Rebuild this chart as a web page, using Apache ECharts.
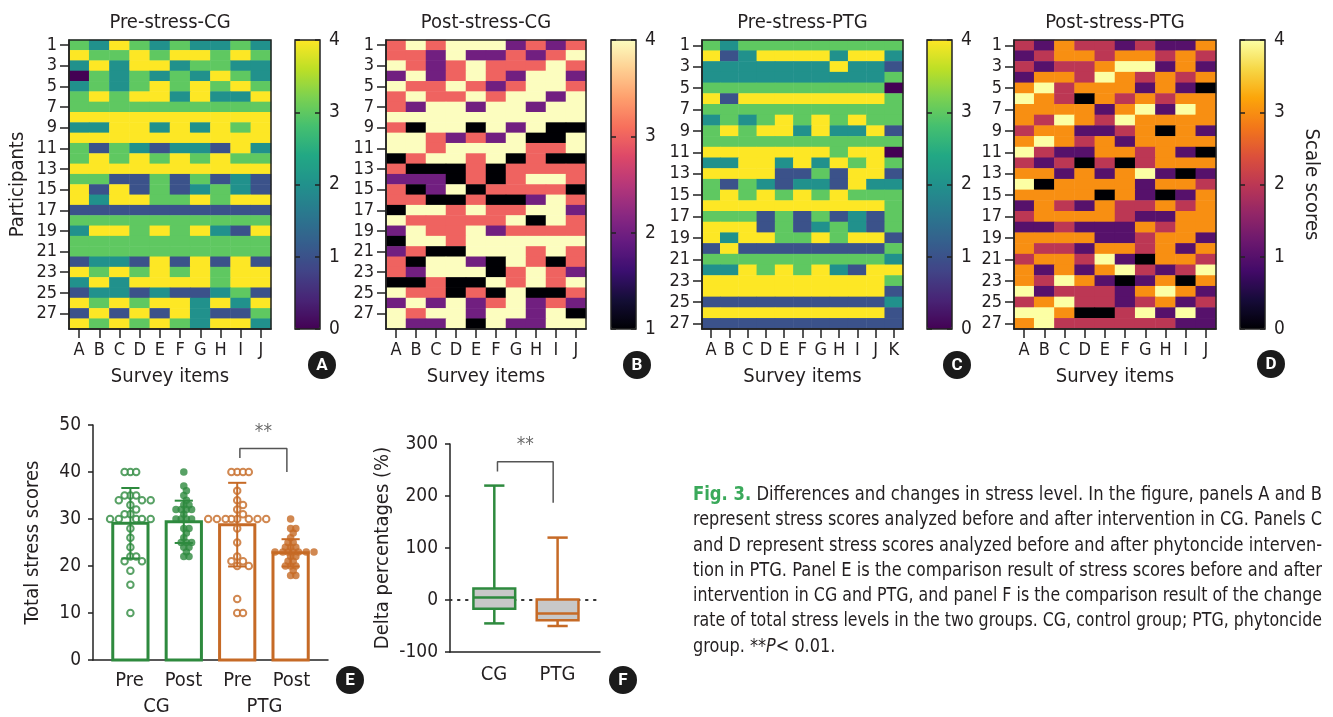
<!DOCTYPE html>
<html><head><meta charset="utf-8">
<script src="https://cdn.jsdelivr.net/npm/echarts@6.0.0/dist/echarts.min.js"></script>
<style>html,body{margin:0;padding:0;background:#fff}#c{width:1333px;height:717px}</style>
</head><body><div id="c"></div><script>
// ---------------- DATA ----------------
const itemsAJ = ['A','B','C','D','E','F','G','H','I','J'];
const itemsAK = ['A','B','C','D','E','F','G','H','I','J','K'];
const participants28 = ['1','2','3','4','5','6','7','8','9','10','11','12','13','14','15','16','17','18','19','20','21','22','23','24','25','26','27','28'];
const participants27 = ['1','2','3','4','5','6','7','8','9','10','11','12','13','14','15','16','17','18','19','20','21','22','23','24','25','26','27'];

const preCG = [
 [3,2,4,3,2,3,2,2,3,2],[4,3,3,4,3,4,4,3,4,3],[2,4,2,4,4,2,3,3,2,2],[0,3,2,3,2,3,2,4,3,2],
 [2,3,2,3,4,3,4,3,4,3],[3,4,3,4,4,2,4,2,2,4],[3,3,3,3,3,3,3,3,3,3],[4,4,4,4,4,4,4,4,4,4],
 [2,2,4,4,2,4,2,4,3,4],[4,4,4,4,4,4,4,4,4,4],[3,1,3,2,1,2,2,1,4,2],[3,4,3,4,3,4,3,4,3,3],
 [4,4,4,4,4,4,4,4,4,4],[3,3,1,1,3,1,3,1,2,1],[4,1,4,1,3,1,2,3,2,1],[4,2,4,4,3,3,4,3,4,4],
 [1,1,1,1,1,1,1,1,1,1],[3,3,3,3,3,3,3,3,3,3],[2,4,4,3,4,3,4,2,1,4],[3,3,3,3,3,3,3,3,3,3],
 [3,3,3,3,3,3,3,3,3,3],[1,2,2,1,4,1,4,1,4,1],[4,3,4,3,4,3,4,3,4,4],[2,4,2,4,4,4,4,3,4,4],
 [1,2,2,1,2,1,1,2,3,1],[4,3,4,3,4,4,2,4,2,4],[1,4,1,4,1,4,2,1,1,3],[4,3,4,3,4,3,2,4,4,2]
];
const postCG = [
 [3,4,3,4,4,4,2,3,2,3],[3,3,2,4,2,2,3,2,3,4],[4,3,2,3,4,3,3,3,4,3],[2,4,2,3,4,3,2,4,4,2],
 [4,3,3,4,3,2,3,4,4,3],[3,4,3,3,4,3,4,4,2,4],[3,2,4,4,2,4,4,2,4,4],[4,4,4,4,4,4,4,4,4,4],
 [3,1,4,4,1,4,2,4,1,1],[4,4,3,2,3,2,4,1,1,4],[4,4,3,4,4,4,4,3,3,4],[1,3,4,4,3,4,1,3,1,1],
 [3,1,1,1,3,1,3,3,3,3],[2,2,2,1,3,1,3,4,4,3],[3,1,2,4,1,3,3,3,3,1],[3,3,1,1,3,1,1,2,4,3],
 [1,4,4,3,4,3,3,4,4,2],[4,3,3,3,3,3,4,1,4,3],[2,4,3,3,4,2,3,3,3,3],[1,4,4,3,4,4,4,4,4,4],
 [2,3,1,1,4,4,4,3,4,3],[3,1,4,4,2,1,4,3,1,3],[3,2,4,4,4,1,3,4,3,2],[1,1,3,1,1,4,3,4,3,4],
 [4,3,3,1,3,1,4,1,1,3],[2,4,2,4,2,3,4,2,3,2],[4,3,4,4,2,4,4,2,4,1],[4,2,2,4,1,4,2,2,4,4]
];
const prePTG = [
 [3,2,3,3,3,3,3,3,3,3,3],[4,1,2,4,4,4,4,2,4,4,2],[2,2,2,2,2,2,2,4,2,2,1],[2,2,2,2,2,2,2,2,2,2,3],
 [3,3,3,3,3,3,3,3,3,3,0],[4,1,4,4,4,4,4,4,4,4,3],[3,3,3,3,3,3,3,3,3,3,3],[2,3,2,3,4,3,4,3,4,3,3],
 [3,4,3,4,4,2,4,2,2,4,1],[3,3,3,3,3,3,3,3,3,3,3],[4,4,4,4,4,4,4,3,4,4,0],[2,2,4,4,2,4,2,4,3,4,3],
 [4,4,4,4,1,1,3,1,4,4,1],[3,1,3,2,1,2,2,1,4,2,2],[3,4,3,4,3,4,3,4,3,3,3],[4,4,4,4,4,4,4,4,4,4,3],
 [3,3,3,1,3,1,3,1,2,1,3],[4,4,4,1,3,1,2,3,2,1,3],[4,2,4,4,3,3,4,3,4,4,1],[1,4,1,1,1,1,1,1,1,1,3],
 [3,3,3,3,3,3,3,3,3,3,2],[2,2,4,3,4,3,4,2,1,4,4],[4,4,4,4,4,4,4,4,4,4,3],[4,4,4,4,4,4,4,4,4,4,1],
 [1,1,1,1,1,1,1,1,1,1,2],[4,4,4,4,4,4,4,4,4,4,1],[1,1,1,1,1,1,1,1,1,1,1]
];
const postPTG = [
 [2,1,3,2,2,1,2,1,1,3],[1,2,3,3,2,3,3,2,3,2],[2,1,2,2,3,4,4,1,3,1],[1,3,3,2,4,3,2,3,2,3],
 [3,4,2,3,3,3,1,3,1,0],[4,3,2,0,3,2,3,2,3,3],[3,3,3,3,1,3,4,1,4,3],[3,2,4,3,2,4,3,3,3,3],
 [2,3,3,1,1,2,3,0,3,1],[3,4,3,2,3,1,3,3,3,3],[4,2,1,1,3,3,2,3,1,0],[2,1,2,0,2,0,2,3,3,3],
 [3,3,1,3,1,3,4,1,0,1],[4,0,3,3,3,3,1,3,3,2],[3,3,3,3,0,3,1,0,1,3],[1,3,2,1,3,2,2,3,2,3],
 [2,3,3,3,3,2,1,1,3,3],[1,1,2,1,1,1,3,2,3,3],[3,3,3,3,1,1,2,3,3,1],[3,2,2,1,3,3,2,3,1,3],
 [2,3,3,2,4,1,0,3,3,2],[3,1,3,1,3,4,2,1,2,4],[3,2,4,3,1,0,1,3,0,3],[4,1,2,2,2,1,3,4,3,1],
 [2,3,4,2,2,1,2,3,1,2],[4,4,3,0,0,2,4,1,4,1],[3,4,2,2,2,2,2,2,1,1]
];

// Panel E: total stress scores
const groupsE = ['Pre','Post','Pre','Post'];
const groupNamesE = ['CG','PTG'];
const meansE = [29.1, 29.4, 28.8, 22.8];
const sdE = [7.5, 4.5, 8.9, 2.9];
const cgPre = [40,40,40,35,35,35,34,34,34,33,32,31,31,30,30,30,30,30,28,26,24,22,22,21,21,19,16,10];
const cgPost = [40,37,36,35,34,33,33,32,32,32,32,31,30,30,30,30,28,28,27,26,25,25,25,24,24,23,22,22];
const ptgPre = [40,40,40,40,36,34,33,32,31,30,30,30,30,30,30,30,30,28,25,22,21,21,20,20,13,10,10];
const ptgPost = [30,28,28,27,26,25,25,24,24,24,23,23,23,23,23,23,23,22,22,21,21,20,20,20,19,18,18];
const sigGroupsE = [2, 3];
const sigHeightsE = [43, 45, 40];

// Panel F: delta percentages  [min, Q1, median, Q3, max]
const groupsF = ['CG','PTG'];
const boxCG = [-45, -17, 5, 22, 220];
const boxPTG = [-50, -39, -26, 1, 120];
const sigGroupsF = [0, 1];
const sigHeightsF = [247, 266, 187];

const yTicksE = [0, 50, 10];
const yTicksF = [-100, 300, 100];

// ---------------- STYLE ----------------
const FONT = "'Liberation Sans Narrow','Arial Narrow','DejaVu Sans Condensed','Roboto Condensed',Roboto,sans-serif";
const TXT = '#231f20';
const GREEN = '#2e8a3e', ORANGE = '#c66a26';
const viridis = ['#440154','#482475','#414487','#355f8d','#2a788e','#21918c','#22a884','#44bf70','#7ad151','#bddf26','#fde725'];
const magma = ['#000004','#140e36','#3b0f70','#641a80','#8c2981','#b73779','#de4968','#f7705c','#fe9f6d','#fecf92','#fcfdbf'];
const inferno = ['#000004','#160b39','#420a68','#6a176e','#932667','#bc3754','#dd513a','#f37819','#fca50a','#f6d746','#fcffa4'];

const grid = [], xAxis = [], yAxis = [], series = [], visualMap = [], graphic = [];
const addGrid = g => grid.push(g) - 1;
const lbl = (size, extra) => Object.assign({fontSize:size, color:TXT, fontFamily:FONT}, extra || {});
const LINE = {color:'#222', width:1.5};

// ---------------- HEATMAPS ----------------
const panels = [
  {title:'Pre-stress-CG', data:preCG, items:itemsAJ, rows:participants28, cmap:viridis, min:0, max:4, left:69, width:202, cb:295},
  {title:'Post-stress-CG', data:postCG, items:itemsAJ, rows:participants28, cmap:magma, min:1, max:4, left:386, width:200, cb:611},
  {title:'Pre-stress-PTG', data:prePTG, items:itemsAK, rows:participants27, cmap:viridis, min:0, max:4, left:702, width:201, cb:927},
  {title:'Post-stress-PTG', data:postPTG, items:itemsAJ, rows:participants27, cmap:inferno, min:0, max:4, left:1014, width:202, cb:1240}
];
panels.forEach((p, k) => {
  const gi = addGrid({left:p.left, top:40, width:p.width, height:289, show:true, borderColor:'#222', borderWidth:1.5, backgroundColor:'transparent', z:10});
  const xi = xAxis.push({gridIndex:gi, type:'category', data:p.items, z:10,
    axisLine:{show:true, lineStyle:LINE}, axisTick:{show:true, alignWithLabel:true, length:9, lineStyle:LINE},
    axisLabel:lbl(18, {margin:12}), splitLine:{show:false},
    name:'Survey items', nameLocation:'middle', nameGap:38, nameTextStyle:lbl(20)}) - 1;
  const yi = yAxis.push({gridIndex:gi, type:'category', data:p.rows, inverse:true, z:10,
    axisLine:{show:true, lineStyle:LINE}, axisTick:{show:true, alignWithLabel:true, interval:1, length:9, lineStyle:LINE},
    axisLabel:lbl(18, {margin:12, interval:1}), splitLine:{show:false},
    name: k === 0 ? 'Participants' : '', nameLocation:'middle', nameGap:41, nameTextStyle:lbl(20)}) - 1;
  const data = [];
  p.data.forEach((row, r) => row.forEach((v, c) => data.push([c, r, v])));
  const si = series.push({type:'heatmap', xAxisIndex:xi, yAxisIndex:yi, data, emphasis:{disabled:true}, itemStyle:{borderWidth:0}}) - 1;
  visualMap.push({type:'continuous', seriesIndex:si, min:p.min, max:p.max, left:p.cb, top:40,
    itemWidth:25, itemHeight:289, padding:0, calculable:false, hoverLink:false, showLabel:false,
    text:null, inRange:{color:p.cmap}, textStyle:{color:'transparent'}});
  const cg = addGrid({left:p.cb, top:40, width:25, height:289, show:true, borderColor:'#222', borderWidth:1.5, backgroundColor:'transparent', z:10});
  xAxis.push({gridIndex:cg, type:'value', show:false, min:0, max:1});
  yAxis.push({gridIndex:cg, type:'value', min:p.min, max:p.max, interval:1, position:'right', z:10,
    axisLine:{show:false, onZero:false}, axisTick:{show:true, inside:true, length:5, lineStyle:LINE},
    axisLabel:lbl(19, {margin:9}), splitLine:{show:false},
    name: k === 3 ? 'Scale scores' : '', nameLocation:'middle', nameRotate:-90, nameGap:36, nameTextStyle:lbl(20)});
  yAxis.push({gridIndex:cg, type:'value', min:p.min, max:p.max, interval:1, position:'left', z:10,
    axisLine:{show:false, onZero:false}, axisTick:{show:true, inside:true, length:5, lineStyle:LINE},
    axisLabel:{show:false}, splitLine:{show:false}});
  graphic.push({type:'text', x:p.left + p.width / 2, y:23, z:20,
    style:{text:p.title, fontSize:20, fontFamily:FONT, fill:TXT, align:'center', verticalAlign:'middle'}});
});

// ---------------- PANEL E ----------------
const gE = addGrid({left:93, top:425, width:235, height:235});
const xE = xAxis.push({gridIndex:gE, type:'value', min:-0.7, max:3.7, axisLine:{show:true, onZero:false, lineStyle:LINE},
  axisTick:{show:false}, axisLabel:{show:false}, splitLine:{show:false}}) - 1;
const yE = yAxis.push({gridIndex:gE, type:'value', min:yTicksE[0], max:yTicksE[1], interval:yTicksE[2],
  axisLine:{show:true, onZero:false, lineStyle:LINE}, axisTick:{show:true, length:5, lineStyle:LINE},
  axisLabel:lbl(19, {margin:12}), splitLine:{show:false},
  name:'Total stress scores', nameLocation:'middle', nameGap:50, nameTextStyle:lbl(20)}) - 1;
const gEl = addGrid({left:102.5, top:425, width:216, height:235});
xAxis.push({gridIndex:gEl, type:'category', data:groupsE, axisLine:{show:false}, axisTick:{show:false}, axisLabel:lbl(20, {margin:12})});
xAxis.push({gridIndex:gEl, type:'category', data:groupNamesE, position:'bottom', axisLine:{show:false}, axisTick:{show:false}, axisLabel:lbl(20, {margin:38})});
yAxis.push({gridIndex:gEl, type:'value', show:false, min:0, max:50});

const colorsE = [GREEN, GREEN, ORANGE, ORANGE];
series.push({type:'custom', xAxisIndex:xE, yAxisIndex:yE, z:2, clip:false,
  data: meansE.map((m, i) => [i, m]),
  renderItem: (params, api) => {
    const x = api.value(0), m = api.value(1);
    const a = api.coord([x - 0.33, m]), b = api.coord([x + 0.33, 0]);
    return {type:'rect', shape:{x:a[0], y:a[1], width:b[0] - a[0], height:b[1] - a[1]},
      style:{fill:'#fff', stroke:colorsE[params.dataIndex], lineWidth:3}};
  }});

// beeswarm x offsets computed from values
function swarm(vals, center, minD) {
  const pxX = 235 / 4.4, pxY = 235 / 50, step = minD / 2;
  const order = vals.map((v, i) => i).sort((a, b) => vals[b] - vals[a]);
  const placed = [], out = [];
  order.forEach(i => {
    const y = vals[i] * pxY;
    let dx = null;
    for (let k = 0; dx === null && k < 60; k++) {
      const cands = k === 0 ? [0] : [k * step, -k * step];
      for (const c of cands) {
        if (placed.every(p => Math.hypot(p.dx - c, p.y - y) >= minD)) { dx = c; break; }
      }
    }
    placed.push({dx, y});
    out.push([center + dx / pxX, vals[i]]);
  });
  return out;
}
[[cgPre, 0, GREEN, true], [cgPost, 1, GREEN, false], [ptgPre, 2, ORANGE, true], [ptgPost, 3, ORANGE, false]].forEach(([vals, c, col, open]) => {
  series.push({type:'scatter', xAxisIndex:xE, yAxisIndex:yE, z:4, symbol:'circle', symbolSize:open ? 6.5 : 7.5,
    data: swarm(vals, c, open ? 5.8 : 5.2),
    itemStyle: open ? {color:'#fff', borderColor:col, borderWidth:2} : {color:col, borderWidth:0}});
});
series.push({type:'custom', xAxisIndex:xE, yAxisIndex:yE, z:5, clip:false,
  data: meansE.map((m, i) => [i, m - sdE[i], m + sdE[i]]),
  renderItem: (params, api) => {
    const x = api.value(0), lo = api.value(1), hi = api.value(2), col = colorsE[params.dataIndex];
    const L = (p, q) => ({type:'line', shape:{x1:p[0], y1:p[1], x2:q[0], y2:q[1]}, style:{stroke:col, lineWidth:2}});
    return {type:'group', children:[
      L(api.coord([x, lo]), api.coord([x, hi])),
      L(api.coord([x - 0.17, hi]), api.coord([x + 0.17, hi])),
      L(api.coord([x - 0.17, lo]), api.coord([x + 0.17, lo]))]};
  }});
function bracket(xi, yi, groups, h) {
  const x0 = groups[0] + 0.05, x1 = groups[1] - 0.07;
  series.push({type:'line', xAxisIndex:xi, yAxisIndex:yi, z:6, symbol:'none', clip:false, silent:true,
    data:[[x0, h[0]], [x0, h[1]], [x1, h[1]], [x1, h[2]]], lineStyle:{color:'#555', width:1.5}});
  series.push({type:'scatter', xAxisIndex:xi, yAxisIndex:yi, z:6, symbolSize:0, clip:false, silent:true,
    data:[[(x0 + x1) / 2, h[1]]],
    label:{show:true, position:'top', distance:7, formatter:'**', fontSize:19, color:'#444', fontFamily:FONT}});
}
bracket(xE, yE, sigGroupsE, sigHeightsE);

// ---------------- PANEL F ----------------
const gF = addGrid({left:450, top:444, width:150, height:208});
const xF = xAxis.push({gridIndex:gF, type:'value', min:-0.7, max:1.67, axisLine:{show:true, onZero:false, lineStyle:LINE},
  axisTick:{show:false}, axisLabel:{show:false}, splitLine:{show:false}}) - 1;
const yF = yAxis.push({gridIndex:gF, type:'value', min:yTicksF[0], max:yTicksF[1], interval:yTicksF[2],
  axisLine:{show:true, onZero:false, lineStyle:LINE}, axisTick:{show:true, length:5, lineStyle:LINE},
  axisLabel:lbl(19, {margin:12}), splitLine:{show:false},
  name:'Delta percentages (%)', nameLocation:'middle', nameGap:57, nameTextStyle:lbl(20)}) - 1;
const gFl = addGrid({left:462.25, top:444, width:127, height:208});
xAxis.push({gridIndex:gFl, type:'category', data:groupsF, axisLine:{show:false}, axisTick:{show:false}, axisLabel:lbl(20, {margin:13})});
yAxis.push({gridIndex:gFl, type:'value', show:false, min:-100, max:300});

series.push({type:'custom', xAxisIndex:xF, yAxisIndex:yF, z:1, data:[[0, 0]],
  renderItem: (params, api) => {
    const cs = params.coordSys, y = api.coord([0, api.value(1)])[1];
    return {type:'line', shape:{x1:cs.x, y1:y, x2:cs.x + cs.width, y2:y},
      style:{stroke:'#333', lineWidth:2.2, lineDash:[1.5, 6.5], lineCap:'round'}};
  }});
const colorsF = [GREEN, ORANGE];
series.push({type:'custom', xAxisIndex:xF, yAxisIndex:yF, z:3, clip:false,
  data:[[0].concat(boxCG), [1].concat(boxPTG)],
  renderItem: (params, api) => {
    const x = api.value(0);
    const mn = api.value(1), q1 = api.value(2), md = api.value(3), q3 = api.value(4), mx = api.value(5);
    const col = colorsF[params.dataIndex], hw = 0.33, cw = 0.16;
    const c = (a, b) => api.coord([a, b]);
    const L = (p, q) => ({type:'line', shape:{x1:p[0], y1:p[1], x2:q[0], y2:q[1]}, style:{stroke:col, lineWidth:2.5}});
    const tl = c(x - hw, q3), br = c(x + hw, q1);
    return {type:'group', children:[
      L(c(x, mx), c(x, q3)), L(c(x, q1), c(x, mn)),
      L(c(x - cw, mx), c(x + cw, mx)), L(c(x - cw, mn), c(x + cw, mn)),
      {type:'rect', shape:{x:tl[0], y:tl[1], width:br[0] - tl[0], height:br[1] - tl[1]}, style:{fill:'#c8c8c8', stroke:col, lineWidth:2.5}},
      L(c(x - hw, md), c(x + hw, md))]};
  }});
bracket(xF, yF, sigGroupsF, sigHeightsF);

// ---------------- PANEL LETTERS ----------------
[['A',322,365],['B',637,365],['C',957,365],['D',1271,364],['E',350,680],['F',623,680]].forEach(([t, x, y]) => {
  graphic.push({type:'circle', shape:{cx:x, cy:y, r:14}, style:{fill:'#1b1b1b'}, z:20});
  graphic.push({type:'text', x:x, y:y + 1, z:21, style:{text:t, fill:'#fff', fontSize:17, fontWeight:'bold', fontFamily:'Roboto, sans-serif', align:'center', verticalAlign:'middle'}});
});

// ---------------- CAPTION ----------------
const captionSegs = [
  [['Fig. 3.','g'], [' Differences and changes in stress level. In the figure, panels A and B','n']],
  [['represent stress scores analyzed before and after intervention in CG. Panels C','n']],
  [['and D represent stress scores analyzed before and after phytoncide interven-','n']],
  [['tion in PTG. Panel E is the comparison result of stress scores before and after','n']],
  [['intervention in CG and PTG, and panel F is the comparison result of the change','n']],
  [['rate of total stress levels in the two groups. CG, control group; PTG, phytoncide','n']],
  [['group. **','n'], ['P','i'], ['< 0.01.','n']]
];
const CAP_SIZE = 19, CAP_X = 693, CAP_W = 629, CAP_Y0 = 495, CAP_DY = 25.3;
const ctx = document.createElement('canvas').getContext('2d');
const segFont = s => (s === 'g' ? 'bold ' : s === 'i' ? 'italic ' : '') + CAP_SIZE + 'px ' + FONT;
const widths = captionSegs.map(line => line.reduce((w, [t, s]) => { ctx.font = segFont(s); return w + ctx.measureText(t).width; }, 0));
const scales = widths.map(w => CAP_W / w);
const avgScale = scales.slice(0, 6).reduce((a, b) => a + b, 0) / 6;
captionSegs.forEach((line, i) => {
  const text = line.map(([t, s]) => s === 'n' ? t : '{' + s + '|' + t + '}').join('');
  graphic.push({type:'text', x:CAP_X, y:CAP_Y0 + i * CAP_DY, scaleX: i < 6 ? scales[i] : avgScale, z:20,
    style:{text, fontSize:CAP_SIZE, fontFamily:FONT, fill:TXT, verticalAlign:'middle', align:'left',
      rich:{g:{fontSize:CAP_SIZE, fontFamily:FONT, fontWeight:'bold', fill:'#3aa95a', color:'#3aa95a'},
            i:{fontSize:CAP_SIZE, fontFamily:FONT, fontStyle:'italic', fill:TXT, color:TXT}}}});
});

const chart = echarts.init(document.getElementById('c'), null, {renderer:'canvas'});
chart.setOption({animation:false, backgroundColor:'#fff', grid, xAxis, yAxis, visualMap, series, graphic});
</script></body></html>
